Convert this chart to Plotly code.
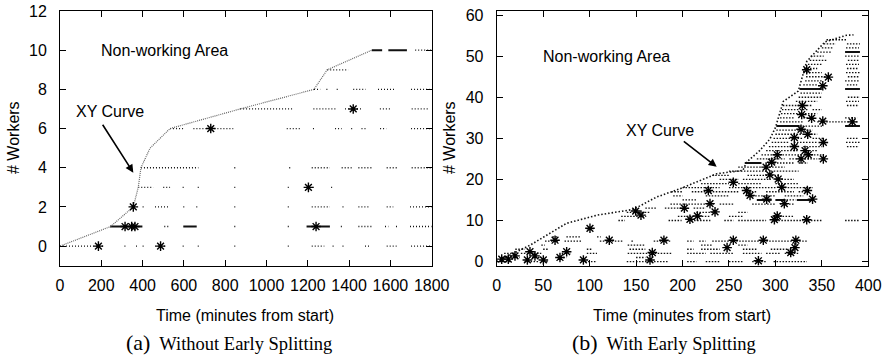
import plotly.graph_objects as go

W, H = 886, 356

# ---------------- Left panel (a) data ----------------
a_curve_x = [0, 245, 355, 379, 392, 436, 533, 872, 1230, 1294, 1510]
a_curve_y = [0, 1, 2, 3, 4, 5, 6, 7, 8, 9, 10]

a_dotted = {
    0: [(0, 210), (312, 318), (368, 374), (400, 407), (460, 517), (594, 600), (667, 673), (844, 850),
        (1103, 1110), (1219, 1280), (1320, 1328), (1368, 1376), (1477, 1505), (1582, 1630), (1700, 1800)],
    1: [(505, 528), (844, 850), (1103, 1110), (1360, 1368), (1445, 1517), (1574, 1590), (1627, 1633), (1695, 1800)],
    2: [(400, 407), (460, 525), (597, 605), (660, 666), (844, 850), (1103, 1110), (1219, 1307), (1368, 1376),
        (1445, 1501), (1582, 1614), (1695, 1800)],
    3: [(379, 452), (500, 533), (594, 600), (667, 673), (844, 850), (1103, 1110), (1224, 1230), (1313, 1319)],
    4: [(392, 670), (844, 850), (1110, 1122), (1219, 1307), (1364, 1412), (1445, 1517), (1582, 1638), (1703, 1800)],
    6: [(533, 597), (646, 839), (1098, 1170), (1225, 1232), (1332, 1364), (1410, 1420), (1460, 1480),
        (1550, 1580), (1700, 1800)],
    7: [(872, 1130), (1227, 1340), (1380, 1460), (1549, 1605), (1703, 1784)],
    8: [(1230, 1260), (1290, 1300), (1340, 1350), (1420, 1480), (1540, 1620), (1700, 1790)],
    9: [(1294, 1396)],
    10: [(1720, 1800)],
}
a_solid = {
    1: [(242, 399), (597, 662), (1194, 1307)],
    10: [(1510, 1560), (1590, 1680)],
}
a_star_x = [186, 487, 315, 347, 363, 1240, 355, 1203, 730, 1420]
a_star_y = [0, 0, 1, 1, 1, 1, 2, 3, 6, 7]

a_xticks = [0, 200, 400, 600, 800, 1000, 1200, 1400, 1600, 1800]
a_yticks = [0, 2, 4, 6, 8, 10, 12]

# ---------------- Right panel (b) data ----------------
b_curve_x = [0, 3.6, 36, 75, 108, 147, 172, 197, 231, 237, 265, 269, 283, 294, 300, 308.5, 324.6, 333.7,
             353.4, 376.7, 384]
b_curve_y = [0, 0.4, 4, 9.3, 11.3, 12.7, 15.7, 17.7, 21, 21.4, 22.2, 24.2, 27, 29.8, 32.6, 39, 41.5, 48.7,
             53.5, 55.1, 55.2]

b_dotted = {
    0: [(0, 16), (30, 45), (50, 56), (95, 108), (140, 148), (150, 185), (205, 215), (225, 240), (250, 265),
        (275, 290), (298, 334)],
    1: [(5, 25), (38, 48), (65, 75), (150, 160)],
    2: [(8, 20), (26, 34), (40, 48), (70, 80), (97, 108), (141, 188), (205, 225), (230, 255), (265, 285),
        (290, 305), (310, 325)],
    3: [(20, 30), (50, 56), (97, 102), (143, 160), (205, 212), (220, 240), (265, 280), (295, 315)],
    4: [(48, 52), (141, 160), (220, 232), (260, 270)],
    5: [(52, 66), (73, 91), (111, 136), (145, 148), (169, 188), (205, 212), (218, 225), (232, 335)],
    6: [(60, 65), (75, 90), (108, 112)],
    8: [(97, 104)],
    10: [(131, 138), (185, 199), (206, 230), (245, 255), (260, 290), (300, 330), (335, 350), (375, 390)],
    11: [(134, 161), (195, 230), (250, 265), (298, 320)],
    12: [(140, 165), (215, 235), (260, 270)],
    13: [(160, 172), (181, 200), (212, 225)],
    14: [(187, 235), (240, 255), (275, 300), (305, 320)],
    15: [(200, 215), (312, 322)],
    16: [(190, 200), (225, 250), (275, 300), (310, 330)],
    17: [(188, 200), (210, 260), (268, 280), (290, 320), (325, 338)],
    18: [(200, 240), (250, 300), (310, 340)],
    19: [(220, 250), (260, 285), (300, 325)],
    20: [(240, 260), (265, 295), (300, 320)],
    21: [(232, 250), (270, 305)],
    22: [(250, 290), (295, 325)],
    23: [(260, 285), (290, 310)],
    24: [(292, 320), (325, 335)],
    25: [(280, 310), (315, 345)],
    26: [(285, 330), (335, 352)],
    27: [(290, 325), (330, 345)],
    28: [(293, 320), (330, 350), (377, 390)],
    29: [(296, 315), (320, 345), (376, 391)],
    30: [(298, 330), (340, 352), (377, 389)],
    31: [(300, 330), (335, 345)],
    32: [(301, 340)],
    33: [(326, 352)],
    34: [(305, 330), (345, 390)],
    35: [(305, 320), (330, 340), (375, 388)],
    36: [(306, 345)],
    37: [(307, 335), (340, 350)],
    38: [(308, 340), (377, 390)],
    39: [(322, 345), (376, 390)],
    40: [(325, 350), (378, 391)],
    41: [(327, 350)],
    43: [(330, 345), (377, 388)],
    44: [(332, 350), (375, 390)],
    45: [(333, 355), (378, 390)],
    46: [(333, 350), (376, 391)],
    47: [(334, 345), (377, 389)],
    48: [(335, 350), (376, 390)],
    49: [(337, 355), (378, 390)],
    50: [(338, 352), (375, 391)],
    51: [(345, 360)],
    52: [(350, 362), (376, 390)],
    53: [(352, 365), (377, 391)],
    54: [(355, 377)],
}
b_solid = {
    15: [(280, 296), (300, 311), (323, 339)],
    24: [(267, 285)],
    33: [(301, 326), (375, 391)],
    42: [(326, 350), (375, 391)],
    51: [(375, 391)],
}
b_star_x = [5.4, 12.5, 19.7, 33, 35.8, 41.2, 50.2, 62.8, 68.1, 75.3, 93.3, 100.4, 121.2, 149.6, 155.3, 165,
            167.5, 180, 202, 208, 216, 227.8, 229.6, 235, 248, 254.7, 254.7, 269, 272.7, 281.7, 287, 290.6,
            290, 294, 296, 298.9, 302, 302, 303, 306.8, 309.6, 316.5, 321, 322, 320.4, 320.4, 327.6, 327.6,
            328.3, 329, 331.9, 333.7, 334.4, 334.8, 335.4, 339, 340, 351, 351, 351.6, 351.6, 357, 382.8, 333.7]
b_star_y = [0.6, 0.6, 1.4, 0.4, 2.4, 1.4, 0.4, 5.2, 1.0, 2.4, 0.4, 8.1, 5.2, 12.3, 11.3, 0.4,
            2.2, 5.2, 13, 10.3, 11.1, 17.3, 14.1, 12.1, 3.4, 5.2, 19.3, 17.3, 16.1, 0.2, 5.2, 15.2,
            23, 21.1, 24.2, 10.2, 11.1, 26, 20.1, 18.1, 14.1, 2.2, 3.4, 5.2, 30.2, 28, 25, 32.2,
            35.8, 38, 27, 10.2, 17.3, 31, 26, 34.9, 15.2, 34.2, 42.8, 29, 25, 44.9, 34, 46.7]

b_xticks = [0, 50, 100, 150, 200, 250, 300, 350, 400]
b_yticks = [0, 10, 20, 30, 40, 50, 60]

# ---------------- helpers ----------------
def seg_xy(levels):
    xs, ys = [], []
    for lvl, segs in levels.items():
        for x0, x1 in segs:
            xs += [x0, x1, None]
            ys += [lvl, lvl, None]
    return xs, ys

FONT = "Liberation Sans, Arial, Helvetica, sans-serif"
SERIF = "Liberation Serif, Times New Roman, serif"

fig = go.Figure()

def add_panel(xa, ya, curve_x, curve_y, dotted, solid, sx, sy, curve_color, curve_dash, curve_w, dot_dash):
    dx, dy = seg_xy(dotted)
    fig.add_trace(go.Scatter(x=dx, y=dy, mode="lines", xaxis=xa, yaxis=ya,
                             line=dict(color="#111", width=1.3, dash=dot_dash), hoverinfo="skip"))
    sx_, sy_ = seg_xy(solid)
    fig.add_trace(go.Scatter(x=sx_, y=sy_, mode="lines", xaxis=xa, yaxis=ya,
                             line=dict(color="#111", width=2), hoverinfo="skip"))
    fig.add_trace(go.Scatter(x=curve_x, y=curve_y, mode="lines", xaxis=xa, yaxis=ya,
                             line=dict(color=curve_color, width=curve_w, dash=curve_dash)))
    fig.add_trace(go.Scatter(x=sx, y=sy, mode="markers", xaxis=xa, yaxis=ya,
                             marker=dict(symbol="asterisk-open", size=8, color="black",
                                         line=dict(color="black", width=1.4))))

add_panel("x", "y", a_curve_x, a_curve_y, a_dotted, a_solid, a_star_x, a_star_y, "#666", "1px,1px", 1.2,
          "1px,2px")
add_panel("x2", "y2", b_curve_x, b_curve_y, b_dotted, b_solid, b_star_x, b_star_y, "#111", "1.5px,2px", 1.6,
          "1.5px,1.5px")

top_px, bot_px = 11, 265.7
ydom = [1 - bot_px / H, 1 - top_px / H]

axis_common = dict(showline=True, linecolor="black", linewidth=1, mirror="allticks", ticks="inside",
                   ticklen=6, tickcolor="black", tickwidth=1, showgrid=False, zeroline=False,
                   automargin=False, tickfont=dict(family=FONT, size=16, color="black"))

fig.update_layout(
    width=W, height=H, autosize=False, margin=dict(l=0, r=0, t=0, b=0, pad=0),
    paper_bgcolor="white", plot_bgcolor="white", showlegend=False,
    xaxis=dict(domain=[60 / W, 431.7 / W], range=[0, 1800], tickvals=a_xticks, anchor="y",
               ticklabelstandoff=5, **axis_common),
    yaxis=dict(domain=ydom, range=[-1, 12], tickvals=a_yticks, anchor="x",
               ticklabelstandoff=9, **axis_common),
    xaxis2=dict(domain=[496.7 / W, 868.3 / W], range=[0, 400], tickvals=b_xticks, anchor="y2",
                ticklabelstandoff=5, **axis_common),
    yaxis2=dict(domain=ydom, range=[-1, 61], tickvals=b_yticks, anchor="x2",
                ticklabelstandoff=9, **axis_common),
)

ann = []
def text_ann(x, y, t, xref, yref, size=16, family=FONT, angle=0):
    ann.append(dict(x=x, y=y, xref=xref, yref=yref, text=t, showarrow=False, textangle=angle,
                    font=dict(family=family, size=size, color="black"), xanchor="center", yanchor="middle"))

# in-plot labels
text_ann(508, 10.0, "Non-working Area", "x", "y")
text_ann(244, 6.86, "XY Curve", "x", "y")
text_ann(118.7, 50, "Non-working Area", "x2", "y2")
text_ann(176, 32.0, "XY Curve", "x2", "y2")

# arrows
ann.append(dict(x=355, y=3.75, ax=202, ay=6.27, xref="x", yref="y", axref="x", ayref="y",
                showarrow=True, arrowhead=2, arrowsize=1, arrowwidth=1.6, arrowcolor="black", text=""))
ann.append(dict(x=236.8, y=23.07, ax=199.8, ay=29.55, xref="x2", yref="y2", axref="x2", ayref="y2",
                showarrow=True, arrowhead=2, arrowsize=1, arrowwidth=1.6, arrowcolor="black", text=""))

# axis titles
text_ann(245 / W, 1 - 315 / H, "Time (minutes from start)", "paper", "paper")
text_ann(681.7 / W, 1 - 315 / H, "Time (minutes from start)", "paper", "paper")
text_ann(14 / W, 1 - 138 / H, "# Workers", "paper", "paper", angle=-90)
text_ann(450 / W, 1 - 138 / H, "# Workers", "paper", "paper", angle=-90)

# captions
text_ann(229 / W, 1 - 342.7 / H, "<span style='font-size:22px'>(a)</span>  Without Early Splitting",
         "paper", "paper", size=18.5, family=SERIF)
text_ann(664 / W, 1 - 342.7 / H, "<span style='font-size:22px'>(b)</span>  With Early Splitting",
         "paper", "paper", size=18.5, family=SERIF)

fig.update_layout(annotations=ann)

post = (
    "document.documentElement.style.margin='0';document.documentElement.style.padding='0';"
    "document.documentElement.style.overflow='hidden';"
    "document.body.style.margin='0';document.body.style.padding='0';document.body.style.overflow='hidden';"
    "var gd=document.getElementById('{plot_id}');gd.style.position='absolute';gd.style.left='0px';"
    "gd.style.top='0px';"
)
fig.write_html("out.html", config={"displayModeBar": False}, post_script=post)
